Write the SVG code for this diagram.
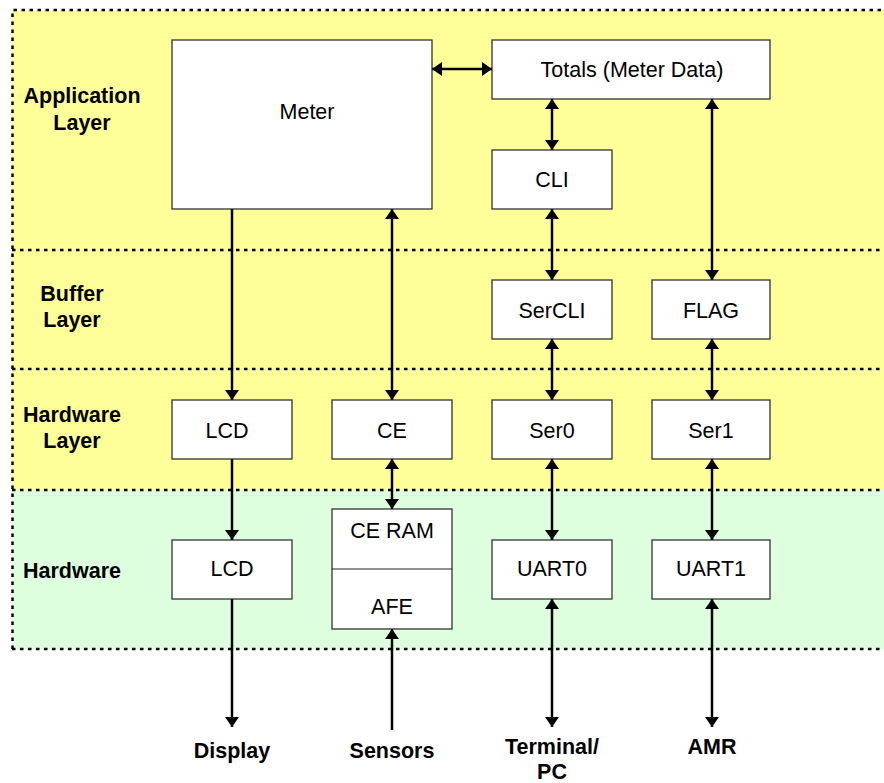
<svg xmlns="http://www.w3.org/2000/svg" width="884" height="783" viewBox="0 0 884 783">
<defs>
<marker id="ah" viewBox="0 0 10 14" refX="10" refY="7" markerWidth="10" markerHeight="14" markerUnits="userSpaceOnUse" orient="auto-start-reverse">
<path d="M0,0 L10,7 L0,14 z" fill="#000"/>
</marker>
<style>
.box{fill:#fff;stroke:#222;stroke-width:1.2}
.t{font-family:"Liberation Sans",Arial,sans-serif;font-size:21.5px;fill:#000;text-anchor:middle}
.b{font-family:"Liberation Sans",Arial,sans-serif;font-size:21.5px;font-weight:bold;fill:#000;text-anchor:middle}
.dash{fill:none;stroke:#000;stroke-width:2.5;stroke-dasharray:3.5 4.5}
.c{stroke:#000;stroke-width:2.5;fill:none}
.bi{marker-start:url(#ah);marker-end:url(#ah)}
.un{marker-end:url(#ah)}
</style>
</defs>
<g id="layers">
<rect x="12" y="10" width="880" height="480" fill="#FFFF99"/>
<rect x="12" y="490" width="880" height="159" fill="#DEFFDE"/>
<path class="dash" d="M12.5,649 V10 H884"/>
<path class="dash" d="M12,250 H884 M12,369 H884 M12,490 H884 M12,649 H884"/>
<text class="b" x="82" y="103">Application</text>
<text class="b" x="82" y="130">Layer</text>
<text class="b" x="72" y="301">Buffer</text>
<text class="b" x="72" y="327">Layer</text>
<text class="b" x="72" y="422">Hardware</text>
<text class="b" x="72" y="448">Layer</text>
<text class="b" x="72" y="578">Hardware</text>
</g>
<g id="connectors">
<line class="c bi" x1="432" y1="69" x2="492" y2="69"/>
<line class="c bi" x1="552" y1="99" x2="552" y2="150"/>
<line class="c bi" x1="552" y1="209" x2="552" y2="280"/>
<line class="c bi" x1="552" y1="339" x2="552" y2="400"/>
<line class="c bi" x1="552" y1="459" x2="552" y2="540"/>
<line class="c bi" x1="552" y1="599" x2="552" y2="727"/>
<line class="c bi" x1="712" y1="99" x2="712" y2="280"/>
<line class="c bi" x1="712" y1="339" x2="712" y2="400"/>
<line class="c bi" x1="712" y1="459" x2="712" y2="540"/>
<line class="c bi" x1="712" y1="599" x2="712" y2="727"/>
<line class="c un" x1="232" y1="209" x2="232" y2="400"/>
<line class="c un" x1="232" y1="459" x2="232" y2="540"/>
<line class="c un" x1="232" y1="599" x2="232" y2="727"/>
<line class="c bi" x1="392" y1="209" x2="392" y2="400"/>
<line class="c bi" x1="392" y1="459" x2="392" y2="509"/>
<line class="c un" x1="392" y1="730" x2="392" y2="629"/>
</g>
<g id="meter"><rect class="box" x="172" y="40" width="260" height="169"/><text class="t" x="307" y="119">Meter</text></g>
<g id="totals"><rect class="box" x="492" y="40" width="278" height="59"/><text class="t" x="632" y="77">Totals (Meter Data)</text></g>
<g id="cli"><rect class="box" x="492" y="150" width="120" height="59"/><text class="t" x="552" y="187">CLI</text></g>
<g id="sercli"><rect class="box" x="492" y="280" width="120" height="59"/><text class="t" x="552" y="318">SerCLI</text></g>
<g id="flag"><rect class="box" x="652" y="280" width="118" height="59"/><text class="t" x="711" y="318">FLAG</text></g>
<g id="lcd-hl"><rect class="box" x="172" y="400" width="120" height="59"/><text class="t" x="227" y="438">LCD</text></g>
<g id="ce"><rect class="box" x="332" y="400" width="120" height="59"/><text class="t" x="392" y="438">CE</text></g>
<g id="ser0"><rect class="box" x="492" y="400" width="120" height="59"/><text class="t" x="552" y="438">Ser0</text></g>
<g id="ser1"><rect class="box" x="652" y="400" width="118" height="59"/><text class="t" x="711" y="438">Ser1</text></g>
<g id="lcd-hw"><rect class="box" x="172" y="540" width="120" height="59"/><text class="t" x="232" y="576">LCD</text></g>
<g id="ceram-afe"><rect class="box" x="332" y="509" width="120" height="120"/><line x1="332" y1="569" x2="452" y2="569" stroke="#222" stroke-width="1.2"/><text class="t" x="392" y="538">CE RAM</text><text class="t" x="392" y="614">AFE</text></g>
<g id="uart0"><rect class="box" x="492" y="540" width="120" height="59"/><text class="t" x="552" y="576">UART0</text></g>
<g id="uart1"><rect class="box" x="652" y="540" width="118" height="59"/><text class="t" x="711" y="576">UART1</text></g>
<g id="ends">
<text class="b" x="232" y="758">Display</text>
<text class="b" x="392" y="758">Sensors</text>
<text class="b" x="552" y="754">Terminal/</text>
<text class="b" x="552" y="779">PC</text>
<text class="b" x="712" y="754">AMR</text>
</g>
</svg>
